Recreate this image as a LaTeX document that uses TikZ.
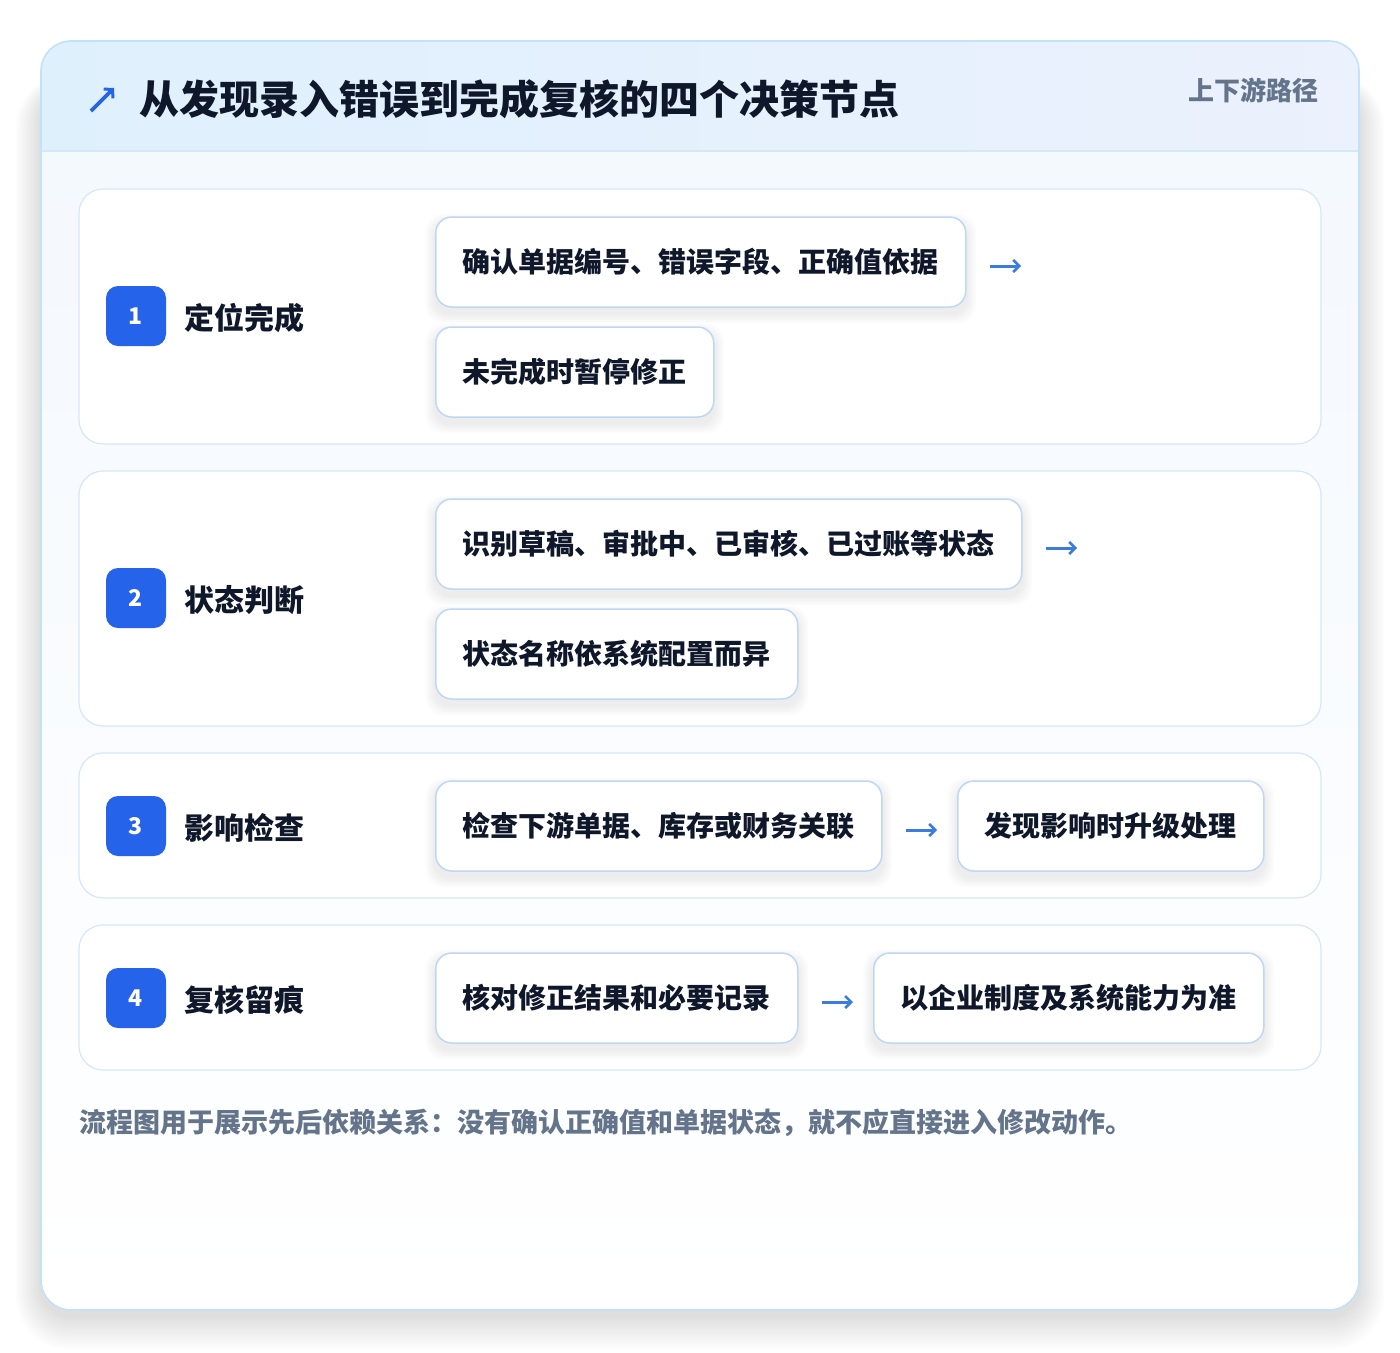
\documentclass[tikz,border=0pt]{standalone}
\usepackage{fontspec}
\setmainfont{Noto Sans CJK SC}
\newfontfamily\titlefont{Noto Sans CJK SC Black}
\usetikzlibrary{arrows.meta}
\pgfdeclarelayer{bg}
\pgfdeclarelayer{shad}
\pgfsetlayers{bg,shad,main}
\definecolor{cardborder}{HTML}{C2E2F7}
\definecolor{hdrL}{HTML}{DFF0FD}
\definecolor{hdrR}{HTML}{EBF1FD}
\definecolor{bodyTop}{HTML}{F3F8FE}
\definecolor{rowborder}{HTML}{D6E7F8}
\definecolor{boxborder}{HTML}{BFD7F4}
\definecolor{badge}{HTML}{2563EB}
\definecolor{ink}{HTML}{0F172A}
\definecolor{mut}{HTML}{64748B}
\definecolor{arrowc}{HTML}{3B7DDD}
\tikzset{
  fs/.style={font=\fontsize{#1}{#1}\selectfont\bfseries},
  rowcard/.style={draw=rowborder,line width=1.2pt,fill=white,rounded corners=24pt},
  stepbox/.style={draw=boxborder,line width=1.5pt,fill=white,rounded corners=16pt,
    minimum height=90pt,inner xsep=27pt,anchor=west,text=ink,fs=28},
  badgebox/.style={fill=badge,rounded corners=12pt,minimum width=60pt,minimum height=60pt,
    text=white,fs=23,inner sep=0pt},
  rowlabel/.style={anchor=west,text=ink,fs=30,inner sep=0pt},
  flow/.style={draw=arrowc,line width=3pt,-{Straight Barb[length=6pt,width=12pt,line width=2.6pt]}},
  shadelayer/.style={black,opacity=0.011,rounded corners=18pt},
}
\newcommand\boxshade[1]{%
  \begin{pgfonlayer}{shad}
  \foreach \i in {1,...,6}{%
    \fill[shadelayer] ([xshift={-\i*1.6pt},yshift={-6pt+\i*1.4pt}]#1.north west)
      rectangle ([xshift={\i*1.6pt},yshift={-6pt-\i*1.6pt}]#1.south east);}
  \end{pgfonlayer}}
\begin{document}
\begin{tikzpicture}[x=1pt,y=-1pt]
\useasboundingbox (0,0) rectangle (1400,1352);
\begin{pgfonlayer}{bg}
\fill[white] (0,0) rectangle (1400,1352);
% outer card soft shadow
\foreach \i in {1,...,16}{%
  \fill[black,opacity=0.0065,rounded corners={30pt+\i*1.5pt}]
    ({41-\i*1.6},{90-\i*1.0}) rectangle ({1359+\i*1.6},{1316+\i*2.1});}
\fill[white,rounded corners=30pt] (41,41) rectangle (1359,1310);
\shade[top color=bodyTop,bottom color=white,rounded corners=30pt] (41,41) rectangle (1359,1310);
% header band
\begin{scope}
\clip[rounded corners=30pt] (41,41) rectangle (1359,400);
\shade[left color=hdrL,right color=hdrR] (41,41) rectangle (1359,151);
\end{scope}
\draw[rowborder,line width=1.2pt] (42,151) -- (1358,151);
\draw[cardborder,line width=1.6pt,rounded corners=30pt] (41,41) rectangle (1359,1310);
% rows
\draw[rowcard] (79,189) rectangle (1321,444);
\draw[rowcard] (79,471) rectangle (1321,726);
\draw[rowcard] (79,753) rectangle (1321,898);
\draw[rowcard] (79,925) rectangle (1321,1070);
\end{pgfonlayer}
% header content
\draw[badge,line width=3.6pt,-{Straight Barb[length=6pt,width=13pt,line width=3pt]}] (91,111) -- (114,88);
\node[anchor=west,text=ink,inner sep=0pt,font=\fontsize{40}{40}\selectfont\titlefont] (title) at (139,99) {从发现录入错误到完成复核的四个决策节点};
\node[anchor=east,text=mut,inner sep=0pt,fs=26] (tag) at (1319,90) {上下游路径};
% row 1
\node[badgebox] (b1) at (136,316) {1};
\node[rowlabel] (l1) at (184,318) {定位完成};
\node[stepbox] (r1a) at (435,262) {确认单据编号、错误字段、正确值依据};
\node[stepbox] (r1b) at (435,372) {未完成时暂停修正};
\boxshade{r1a}\boxshade{r1b}
\coordinate (e1) at (1021,266);
\draw[flow] ([xshift=23pt,yshift=-4pt]r1a.east) -- (e1);
% row 2
\node[badgebox] (b2) at (136,598) {2};
\node[rowlabel] (l2) at (184,600) {状态判断};
\node[stepbox] (r2a) at (435,544) {识别草稿、审批中、已审核、已过账等状态};
\node[stepbox] (r2b) at (435,654) {状态名称依系统配置而异};
\boxshade{r2a}\boxshade{r2b}
\coordinate (e2) at (1077,548);
\draw[flow] ([xshift=23pt,yshift=-4pt]r2a.east) -- (e2);
% row 3
\node[badgebox] (b3) at (136,826) {3};
\node[rowlabel] (l3) at (184,828) {影响检查};
\node[stepbox] (r3a) at (435,826) {检查下游单据、库存或财务关联};
\node[stepbox] (r3b) at (957,826) {发现影响时升级处理};
\boxshade{r3a}\boxshade{r3b}
\draw[flow] ([xshift=23pt,yshift=-4pt]r3a.east) -- ([xshift=-20pt,yshift=-4pt]r3b.west);
% row 4
\node[badgebox] (b4) at (136,998) {4};
\node[rowlabel] (l4) at (184,1000) {复核留痕};
\node[stepbox] (r4a) at (435,998) {核对修正结果和必要记录};
\node[stepbox] (r4b) at (873,998) {以企业制度及系统能力为准};
\boxshade{r4a}\boxshade{r4b}
\draw[flow] ([xshift=23pt,yshift=-4pt]r4a.east) -- ([xshift=-20pt,yshift=-4pt]r4b.west);
% footer
\node[anchor=west,text=mut,inner sep=0pt,fs=27] (note) at (79,1123) {流程图用于展示先后依赖关系：没有确认正确值和单据状态，就不应直接进入修改动作。};
\end{tikzpicture}
\end{document}
